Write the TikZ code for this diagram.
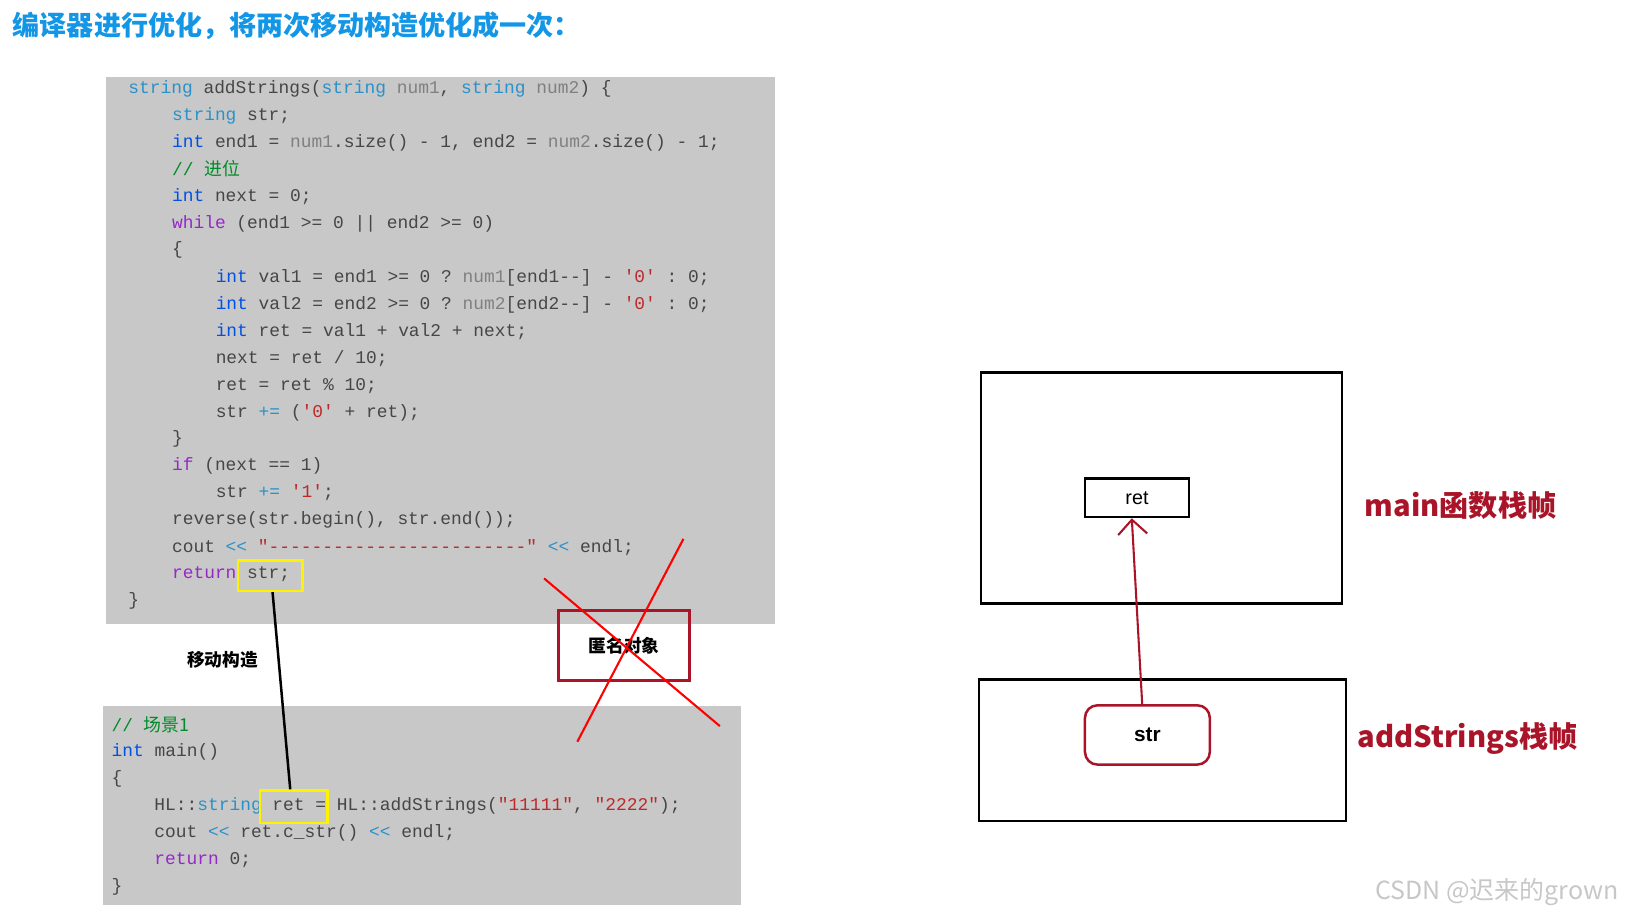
\documentclass[tikz,border=0pt]{standalone}
\usetikzlibrary{arrows.meta}
\usepackage{fontspec}
\setmainfont{Liberation Sans}
\setmonofont{Liberation Mono}
\newfontfamily\cjk{Noto Sans CJK SC}
\definecolor{bg}{RGB}{200,200,200}
\definecolor{tyc}{RGB}{43,145,200}
\definecolor{kwc}{RGB}{0,80,230}
\definecolor{ctl}{RGB}{150,40,200}
\definecolor{cmc}{RGB}{0,140,40}
\definecolor{strc}{RGB}{190,40,40}
\definecolor{idc}{RGB}{70,70,70}
\definecolor{prm}{RGB}{128,128,128}
\definecolor{ttl}{RGB}{20,150,230}
\definecolor{dred}{RGB}{170,20,40}
\newcommand\Ty[1]{\textcolor{tyc}{#1}}
\newcommand\Kw[1]{\textcolor{kwc}{#1}}
\newcommand\Ct[1]{\textcolor{ctl}{#1}}
\newcommand\Cm[1]{\textcolor{cmc}{#1}}
\newcommand\St[1]{\textcolor{strc}{#1}}
\newcommand\Pm[1]{\textcolor{prm}{#1}}
\tikzset{cl/.style={anchor=west,inner sep=0pt,font=\ttfamily\fontsize{8.6}{13}\selectfont,text=idc},
 lbl/.style={font=\cjk\bfseries,text=dred}}
\begin{document}
\begin{tikzpicture}[x=0.5pt,y=-0.5pt]
\useasboundingbox (0,0) rectangle (1565,884);
\node[anchor=west,inner sep=0pt,text=ttl,font=\cjk\bfseries\fontsize{13}{15}\selectfont] (title) at (12,25) {编译器进行优化，将两次移动构造优化成一次：};
\fill[bg] (102,74) rectangle (745,600);
\fill[bg] (99,679) rectangle (712,870);
\def\a{123}\def\b{165}\def\c{207}
\node[cl] (l1) at (\a,85) {\Ty{string} addStrings(\Ty{string} \Pm{num1}, \Ty{string} \Pm{num2}) \{};
\node[cl] (l2) at (\b,111) {\Ty{string} str;};
\node[cl] (l3) at (\b,137) {\Kw{int} end1 = \Pm{num1}.size() - 1, end2 = \Pm{num2}.size() - 1;};
\node[cl] (l4) at (\b,162) {\Cm{// {\cjk 进位}}};
\node[cl] (l5) at (\b,189) {\Kw{int} next = 0;};
\node[cl] (l6) at (\b,215) {\Ct{while} (end1 >= 0 || end2 >= 0)};
\node[cl] (l7) at (\b,240) {\{};
\node[cl] (l8) at (\c,267) {\Kw{int} val1 = end1 >= 0 ? \Pm{num1}[end1-{}-] - \St{'0'} : 0;};
\node[cl] (l9) at (\c,293) {\Kw{int} val2 = end2 >= 0 ? \Pm{num2}[end2-{}-] - \St{'0'} : 0;};
\node[cl] (l10) at (\c,319) {\Kw{int} ret = val1 + val2 + next;};
\node[cl] (l11) at (\c,345) {next = ret / 10;};
\node[cl] (l12) at (\c,371) {ret = ret \% 10;};
\node[cl] (l13) at (\c,397) {str \Ty{+=} (\St{'0'} + ret);};
\node[cl] (l14) at (\b,422) {\}};
\node[cl] (l15) at (\b,448) {\Ct{if} (next == 1)};
\node[cl] (l16) at (\c,474) {str \Ty{+=} \St{'1'};};
\node[cl] (l17) at (\b,500) {reverse(str.begin(), str.end());};
\node[cl] (l18) at (\b,526) {cout \Ty{<<} \St{"-{}-{}-{}-{}-{}-{}-{}-{}-{}-{}-{}-{}-{}-{}-{}-{}-{}-{}-{}-{}-{}-{}-{}-"} \Ty{<<} endl;};
\node[cl] (l19) at (\b,552) {\Ct{return} str;};
\node[cl] (l20) at (\a,578) {\}};
\node[cl] (m1) at (107,697) {\Cm{// {\cjk 场景1}}};
\node[cl] (m2) at (107,723) {\Kw{int} main()};
\node[cl] (m3) at (107,749) {\{};
\node[cl] (m4) at (148,775) {HL::\Ty{string} ret = HL::addStrings(\St{"11111"}, \St{"2222"});};
\node[cl] (m5) at (148,801) {cout \Ty{<<} ret.c\_str() \Ty{<<} endl;};
\node[cl] (m6) at (148,827) {\Ct{return} 0;};
\node[cl] (m7) at (107,853) {\}};
\node[draw=yellow,line width=1.2pt,minimum width=31pt,minimum height=14.5pt,inner sep=0pt] (ys) at (260,553.5) {};
\node[draw=yellow,line width=1.2pt,minimum width=32.5pt,minimum height=15.5pt,inner sep=0pt] (yr) at (282.5,775.5) {};
\draw[line width=1.2pt] (ys.south -| 262,0) -- (yr.north -| 279,0);
\node[font=\cjk\bfseries\fontsize{8.5}{10}\selectfont] (mv) at (214,634) {移动构造};
\node[draw=dred,line width=1.2pt,minimum width=63pt,minimum height=33.5pt,inner sep=0pt,font=\cjk\bfseries\fontsize{8.5}{10}\selectfont] (anon) at (600,620.5) {匿名对象};
\draw[red,line width=1pt] (523,556) -- (692,698);
\draw[red,line width=1pt] (657,518) -- (555,713);
\node[draw,line width=1.2pt,minimum width=173.5pt,minimum height=111pt,inner sep=0pt] (f1) at (1116.5,469) {};
\node[draw,line width=1.2pt,minimum width=176.5pt,minimum height=68pt,inner sep=0pt] (f2) at (1117.5,721) {};
\node[draw,line width=1.2pt,minimum width=50pt,minimum height=18.5pt,inner sep=0pt,font=\fontsize{9.5}{11}\selectfont] (ret) at (1093,478.5) {ret};
\node[draw=dred,line width=1.2pt,rounded corners=6pt,minimum width=60pt,minimum height=28.5pt,inner sep=0pt,font=\bfseries\fontsize{10}{12}\selectfont] (str) at (1103,706.5) {str};
\draw[dred,line width=1pt,-{Straight Barb[length=7pt,width=14pt]}] (str.north -| 1098,0) -- (ret.south -| 1088,0);
\node[lbl,anchor=west,font=\cjk\bfseries\fontsize{14}{16}\selectfont] (lm) at (1305,486) {main函数栈帧};
\node[lbl,anchor=west,font=\cjk\bfseries\fontsize{14}{16}\selectfont] (la) at (1298,710) {addStrings栈帧};
\node[anchor=east,text=black!22,font=\cjk\fontsize{12}{14}\selectfont] (wm) at (1563,858) {CSDN @迟来的grown};
\end{tikzpicture}
\end{document}
